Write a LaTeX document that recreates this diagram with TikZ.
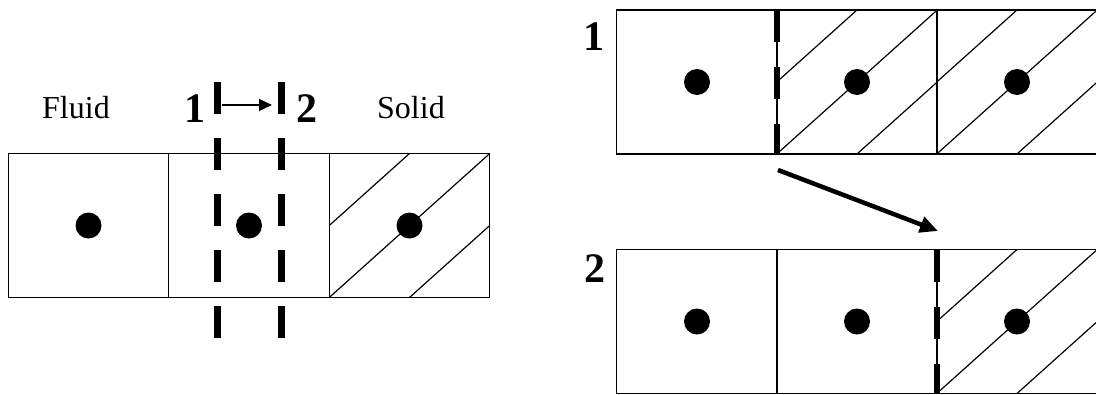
\documentclass[tikz,border=0pt]{standalone}
\usepackage{fontspec}
\setmainfont{Liberation Serif}
\usetikzlibrary{arrows.meta}
\tikzset{
  cell/.style={draw, line width=1.4pt, minimum width=160.5pt, minimum height=144pt, inner sep=0pt, outer sep=0pt},
  dot/.style={circle, fill=black, minimum size=26pt, inner sep=0pt},
  hatch/.style={line width=1.2pt},
  cutline/.style={line width=7pt, dash pattern=on 32pt off 24pt},
  iface/.style={line width=6pt, dash pattern=on 32pt off 25pt},
  lbl/.style={font=\fontsize{32}{32}\selectfont, anchor=base west, inner sep=0pt},
  num/.style={font=\bfseries\fontsize{42}{42}\selectfont, anchor=base, inner sep=0pt},
  smallarrow/.style={line width=1.3pt, -{Triangle[length=13pt,width=12pt]}},
  bigarrow/.style={line width=4.5pt, -{Triangle[length=18pt,width=16pt]}, shorten <=0pt}
}
\begin{document}
\begin{tikzpicture}[x=1pt,y=-1pt]
\useasboundingbox (0,0) rectangle (1096,394);
\clip (0,0) rectangle (1096,394);
% ---------- left panel ----------
\node[cell] (L1) at (88.5,225.5) {};
\node[cell] (L2) at (249,225.5) {};
\node[cell] (L3) at (409.5,225.5) {};
\foreach \c in {L1,L2,L3} \node[dot] (d\c) at (\c.center) {};
\draw[hatch] (L3.west) -- (L3.north) (L3.south west) -- (L3.north east) (L3.south) -- (L3.east);
\coordinate (a1t) at (217,82);
\coordinate (a1b) at (217,340);
\coordinate (a2t) at (281,82);
\coordinate (a2b) at (281,340);
\draw[cutline] (a1t) -- (a1b);
\draw[cutline] (a2t) -- (a2b);
\coordinate (as) at (222,105);
\coordinate (ae) at (272,105);
\draw[smallarrow] (as) -- (ae);
\node[num] (n1) at (195,122) {1};
\node[num] (n2) at (307,122) {2};
\node[lbl] (fluid) at (42,118) {Fluid};
\node[lbl] (solid) at (377,118) {Solid};
% ---------- right panel, top ----------
\node[cell] (T1) at (697,82) {};
\node[cell] (T2) at (857,82) {};
\node[cell] (T3) at (1017,82) {};
\foreach \c in {T1,T2,T3} \node[dot] (d\c) at (\c.center) {};
\foreach \c in {T2,T3}
  \draw[hatch] (\c.west) -- (\c.north) (\c.south west) -- (\c.north east) (\c.south) -- (\c.east);
\draw[iface] (T1.north east) -- (T1.south east);
\node[num] (r1) at (594,50) {1};
% ---------- right panel, bottom ----------
\node[cell] (B1) at (697,321.5) {};
\node[cell] (B2) at (857,321.5) {};
\node[cell] (B3) at (1017,321.5) {};
\foreach \c in {B1,B2,B3} \node[dot] (d\c) at (\c.center) {};
\draw[hatch] (B3.west) -- (B3.north) (B3.south west) -- (B3.north east) (B3.south) -- (B3.east);
\draw[iface] (B2.north east) -- (B2.south east);
\node[num] (r2) at (595,282) {2};
% ---------- transition arrow ----------
\coordinate (bs) at (778,170);
\coordinate (be) at (938,231);
\draw[bigarrow] (bs) -- (be);
\end{tikzpicture}
\end{document}
